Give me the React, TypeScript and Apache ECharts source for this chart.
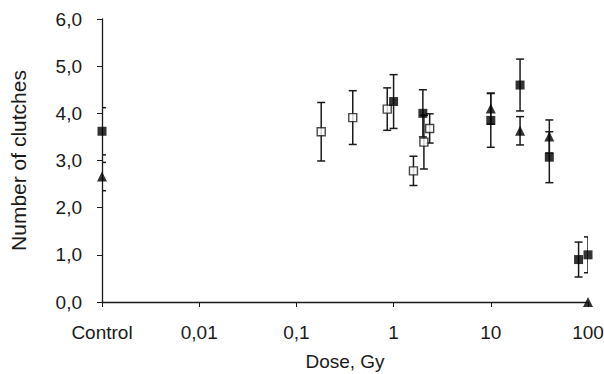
import React, { useEffect, useRef } from "react";
import * as echarts from "echarts";

// Dose (Gy); "Control" is placed at 0.001 on the log axis
const xTickLabels = ["Control", "0,01", "0,1", "1", "10", "100"];
const yTickLabels = ["0,0", "1,0", "2,0", "3,0", "4,0", "5,0", "6,0"];

const filledDose = [0.001, 1, 2, 10, 20, 40, 80, 100];
const filledMean = [3.62, 4.25, 4.0, 3.85, 4.6, 3.07, 0.9, 1.0];
const filledErr = [0.5, 0.57, 0.5, 0.57, 0.55, 0.54, 0.37, 0.38];

const openDose = [0.18, 0.38, 0.86, 1.6, 2.05, 2.35];
const openMean = [3.61, 3.91, 4.09, 2.78, 3.39, 3.68];
const openErr = [0.62, 0.57, 0.45, 0.31, 0.57, 0.31];

const triDose = [0.001, 10, 20, 40, 100];
const triMean = [2.66, 4.1, 3.63, 3.51, 0];
const triErr = [0.3, 0.33, 0.3, 0.35, 0];

const FONT = "'Liberation Sans', Arial, sans-serif";

function rows(d: number[], m: number[], e: number[]) {
  return d.map((x, i) => [x, m[i], e[i]]);
}

function errSeries(data: number[][]) {
  return {
    type: "custom",
    clip: true,
    z: 1,
    encode: { x: 0, y: 1 },
    data,
    renderItem: (params: any, api: any) => {
      const x = api.value(0);
      const m = api.value(1);
      const e = api.value(2);
      if (!e) return null;
      const t = api.coord([x, m + e]);
      const b = api.coord([x, m - e]);
      const cap = 4;
      const style = { stroke: "#1a1a1a", lineWidth: 1.5 };
      return {
        type: "group",
        children: [
          { type: "line", shape: { x1: t[0], y1: t[1], x2: b[0], y2: b[1] }, style },
          { type: "line", shape: { x1: t[0] - cap, y1: t[1], x2: t[0] + cap, y2: t[1] }, style },
          { type: "line", shape: { x1: b[0] - cap, y1: b[1], x2: b[0] + cap, y2: b[1] }, style },
        ],
      };
    },
  };
}

export default function App() {
  const ref = useRef<HTMLDivElement>(null);
  useEffect(() => {
    if (!ref.current) return;
    const chart = echarts.init(ref.current, undefined, { renderer: "svg" });
    const labelFor = (v: number) => {
      const k = Math.round(Math.log10(v)) + 3;
      return xTickLabels[k] ?? "";
    };
    chart.setOption({
      animation: false,
      backgroundColor: "#ffffff",
      grid: {
        left: 102,
        right: 16,
        top: 19,
        bottom: 72,
        containLabel: false,
        outerBoundsMode: "none",
      },
      xAxis: {
        type: "log",
        logBase: 10,
        min: 0.001,
        max: 100,
        name: "Dose, Gy",
        nameLocation: "middle",
        nameGap: 50,
        nameTextStyle: { fontFamily: FONT, fontSize: 19, color: "#1a1a1a", lineHeight: 19 },
        axisLine: { show: true, lineStyle: { color: "#1a1a1a", width: 1.3 } },
        axisTick: { show: true, length: 5, lineStyle: { color: "#1a1a1a" } },
        minorTick: { show: false },
        splitLine: { show: false },
        axisLabel: {
          fontFamily: FONT,
          fontSize: 19,
          color: "#1a1a1a",
          margin: 21,
          formatter: labelFor,
        },
      },
      yAxis: {
        type: "value",
        min: 0,
        max: 6,
        interval: 1,
        name: "Number of clutches",
        nameLocation: "middle",
        nameGap: 73,
        nameTextStyle: { fontFamily: FONT, fontSize: 21, color: "#1a1a1a" },
        axisLine: { show: true, lineStyle: { color: "#1a1a1a", width: 1.3 } },
        axisTick: { show: true, length: 5, lineStyle: { color: "#1a1a1a" } },
        splitLine: { show: false },
        axisLabel: {
          fontFamily: FONT,
          fontSize: 19,
          color: "#1a1a1a",
          margin: 20,
          formatter: (v: number) => yTickLabels[Math.round(v)] ?? "",
        },
      },
      series: [
        errSeries(rows(filledDose, filledMean, filledErr)),
        errSeries(rows(openDose, openMean, openErr)),
        errSeries(rows(triDose, triMean, triErr)),
        {
          type: "scatter",
          clip: false,
          z: 3,
          symbol: "rect",
          symbolSize: 8,
          itemStyle: { color: "#ffffff", borderColor: "#1a1a1a", borderWidth: 1.4 },
          data: openDose.map((x, i) => [x, openMean[i]]),
        },
        {
          type: "scatter",
          clip: false,
          z: 3,
          symbol: "rect",
          symbolSize: 9,
          itemStyle: { color: "#000000" },
          data: filledDose.map((x, i) => [x, filledMean[i]]),
        },
        {
          type: "scatter",
          clip: false,
          z: 3,
          symbol: "triangle",
          symbolSize: 10,
          itemStyle: { color: "#000000" },
          data: triDose.map((x, i) => [x, triMean[i]]),
        },
      ],
    });
    return () => chart.dispose();
  }, []);
  return (
    <div
      ref={ref}
      style={{ position: "fixed", left: 0, top: 0, width: 604, height: 374, background: "#fff" }}
    />
  );
}
